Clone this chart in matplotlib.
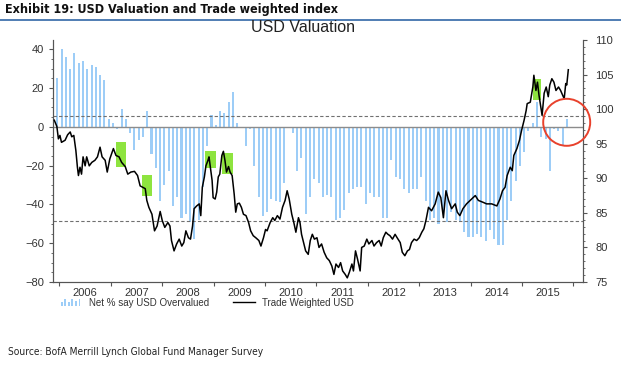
import matplotlib
matplotlib.use("Agg")
import matplotlib.pyplot as plt
from matplotlib import font_manager
from matplotlib.patches import Rectangle, Ellipse
from matplotlib.lines import Line2D
from matplotlib.legend_handler import HandlerBase

# monthly survey: net % of fund managers saying USD is overvalued, Dec 2005 .. Nov 2015
net_overvalued = [
    25, 40, 36, 30, 38, 33, 34, 30, 32, 31, 27, 24,
    4, 2, -1, 9, 4, -3, -12, -7, -5, 8, -14, -21,
    -38, -30, -23, -41, -36, -47, -45, -49, -58, -48, -31, -10,
    6, 1, 8, 7, 13, 18, 2, 0, -10, -1, -20, -36,
    -46, -44, -37, -38, -39, -29, 0, -3, -23, -16, -45, -36,
    -27, -29, -36, -35, -36, -48, -47, -43, -34, -32, -31, -31,
    -40, -34, -36, -36, -47, -47, -17, -26, -27, -32, -34, -32,
    -32, -26, -38, -48, -47, -50, -44, -49, -44, -48, -49, -54,
    -57, -57, -55, -57, -59, -53, -58, -61, -61, -48, -38, -28,
    -20, -13, -2, 2, 13, -5, -6, -23, -1, -2, -10, 4,
]
first_month = 2005 + 11.5 / 12  # mid Dec 2005

# trade weighted USD (decimal year, index level)
twi_t = [
    2005.90, 2005.95, 2005.98, 2006.01, 2006.04, 2006.11, 2006.16, 2006.21, 2006.24, 2006.28,
    2006.32, 2006.35, 2006.37, 2006.40, 2006.43, 2006.46, 2006.50, 2006.53, 2006.58, 2006.63,
    2006.69, 2006.74, 2006.79, 2006.83, 2006.89, 2006.93, 2006.98, 2007.05, 2007.10, 2007.16,
    2007.21, 2007.28, 2007.33, 2007.39, 2007.46, 2007.52, 2007.57, 2007.62, 2007.67, 2007.70,
    2007.74, 2007.80, 2007.85, 2007.90, 2007.96, 2008.00, 2008.05, 2008.11, 2008.15, 2008.18,
    2008.23, 2008.28, 2008.33, 2008.38, 2008.42, 2008.46, 2008.51, 2008.55, 2008.59, 2008.62,
    2008.67, 2008.72, 2008.75, 2008.78, 2008.82, 2008.85, 2008.89, 2008.91, 2008.94, 2008.97,
    2008.99, 2009.03, 2009.06, 2009.09, 2009.12, 2009.16, 2009.19, 2009.22, 2009.25, 2009.29,
    2009.32, 2009.36, 2009.40, 2009.43, 2009.46, 2009.50, 2009.54, 2009.58, 2009.63, 2009.68,
    2009.72, 2009.77, 2009.82, 2009.88, 2009.92, 2009.97, 2010.01, 2010.04, 2010.10, 2010.15,
    2010.19, 2010.24, 2010.29, 2010.34, 2010.39, 2010.43, 2010.47, 2010.52, 2010.56, 2010.60,
    2010.65, 2010.68, 2010.71, 2010.75, 2010.79, 2010.84, 2010.88, 2010.92, 2010.96, 2011.01,
    2011.05, 2011.10, 2011.15, 2011.20, 2011.25, 2011.30, 2011.34, 2011.38, 2011.43, 2011.47,
    2011.51, 2011.56, 2011.60, 2011.64, 2011.69, 2011.72, 2011.76, 2011.80, 2011.85, 2011.88,
    2011.93, 2011.98, 2012.02, 2012.08, 2012.12, 2012.17, 2012.22, 2012.26, 2012.30, 2012.35,
    2012.39, 2012.43, 2012.48, 2012.53, 2012.57, 2012.63, 2012.67, 2012.72, 2012.77, 2012.81,
    2012.85, 2012.90, 2012.95, 2013.00, 2013.05, 2013.09, 2013.13, 2013.18, 2013.24, 2013.31,
    2013.37, 2013.42, 2013.47, 2013.52, 2013.57, 2013.63, 2013.70, 2013.74, 2013.79, 2013.85,
    2013.92, 2014.02, 2014.09, 2014.15, 2014.25, 2014.31, 2014.41, 2014.51, 2014.57, 2014.62,
    2014.67, 2014.71, 2014.77, 2014.81, 2014.84, 2014.90, 2014.95, 2014.99, 2015.04, 2015.08,
    2015.10, 2015.16, 2015.21, 2015.23, 2015.27, 2015.30, 2015.33, 2015.36, 2015.39, 2015.43,
    2015.47, 2015.51, 2015.54, 2015.58, 2015.62, 2015.66, 2015.71, 2015.75, 2015.79, 2015.82,
    2015.85, 2015.87, 2015.90,
]
twi_val = [
    98.4, 97.5, 95.7, 96.2, 95.2, 95.5, 96.3, 96.7, 96.0, 96.2,
    94.0, 91.6, 90.4, 91.6, 90.6, 93.1, 91.8, 93.1, 91.8, 92.3,
    92.6, 93.1, 94.5, 93.1, 92.6, 90.9, 92.8, 94.3, 93.3, 93.1,
    92.3, 91.7, 90.6, 90.9, 91.0, 90.4, 88.9, 88.7, 88.5, 86.8,
    85.8, 84.8, 82.4, 83.1, 85.2, 83.9, 82.9, 83.6, 83.1, 81.0,
    79.5, 80.5, 81.2, 80.2, 80.7, 82.4, 81.4, 81.2, 83.1, 85.6,
    86.0, 86.3, 84.6, 88.7, 90.2, 91.8, 92.6, 93.1, 91.4, 89.7,
    87.2, 87.0, 88.0, 90.2, 90.6, 93.3, 93.9, 92.6, 90.9, 91.7,
    90.9, 90.4, 87.7, 85.1, 86.3, 86.4, 85.8, 84.8, 84.6, 83.6,
    82.4, 81.7, 81.4, 81.0, 80.2, 81.4, 82.6, 82.4, 83.6, 84.3,
    83.9, 84.6, 84.1, 85.8, 86.8, 88.2, 87.0, 84.8, 83.6, 82.2,
    84.3, 83.6, 81.9, 80.7, 79.5, 79.0, 81.0, 81.9, 81.2, 81.4,
    80.0, 80.5, 79.3, 78.5, 78.1, 77.3, 76.1, 77.6, 77.1, 77.8,
    76.6, 76.1, 75.6, 76.4, 77.6, 76.6, 79.5, 78.3, 76.6, 80.0,
    80.2, 81.2, 80.5, 81.0, 80.2, 80.7, 81.0, 80.2, 81.4, 82.2,
    81.9, 81.7, 81.2, 81.9, 81.4, 80.7, 79.3, 78.8, 79.5, 79.7,
    80.7, 81.2, 81.0, 81.4, 82.2, 82.7, 83.9, 85.8, 85.3, 86.3,
    88.0, 87.2, 84.3, 88.2, 86.8, 85.6, 86.3, 85.1, 84.6, 85.6,
    86.3, 87.0, 87.5, 86.8, 86.5, 86.3, 86.3, 86.0, 87.0, 88.2,
    88.7, 90.4, 91.6, 91.1, 93.3, 94.3, 95.5, 96.9, 98.4, 99.8,
    100.8, 101.0, 103.2, 104.9, 102.7, 103.9, 102.0, 100.6, 99.1, 102.3,
    103.2, 101.8, 103.5, 104.4, 103.9, 102.7, 103.2, 102.7, 102.0, 101.5,
    103.7, 103.5, 105.7,
]

# +/- 1 std band of the survey series
band_hi, band_lo = 5.5, -48.3

# green highlight windows on the USD line: (t0, t1, lo, hi)
highlights = [
    (2007.10, 2007.30, 91.7, 95.2),
    (2007.61, 2007.80, 87.5, 90.5),
    (2008.83, 2009.04, 91.5, 94.0),
    (2009.17, 2009.38, 90.6, 93.7),
    (2015.22, 2015.37, 101.3, 104.3),
]

years = list(range(2006, 2016))

BAR_COLOR = "#9dcdf7"
GREEN = "#8ee43f"
TXT = "#333333"
SPINE = "#555555"

# a narrow face for the header / source lines, if one is installed
installed = {f.name for f in font_manager.fontManager.ttflist}
NARROW = dict(family="Liberation Sans Narrow") if "Liberation Sans Narrow" in installed \
    else dict(family="DejaVu Sans", stretch="condensed")


class MiniBars(HandlerBase):
    def create_artists(self, legend, orig_handle, xdescent, ydescent,
                       width, height, fontsize, trans):
        hs = [0.55, 0.95, 0.6, 1.0, 0.7, 0.95]
        step = width / len(hs)
        return [Rectangle((-xdescent + k * step, -ydescent), step * 0.5, height * h,
                          facecolor=BAR_COLOR, edgecolor="none", transform=trans)
                for k, h in enumerate(hs)]


plt.rcParams["font.family"] = ["Liberation Sans", "DejaVu Sans"]
fig = plt.figure(figsize=(6.21, 3.76), dpi=100)

ax = fig.add_axes([53 / 621, 1 - 282 / 376, (582.7 - 53) / 621, 242 / 376])
ax2 = ax.twinx()

bar_x = [first_month + i / 12 for i in range(len(net_overvalued))]
bars = ax.bar(bar_x, net_overvalued, width=0.04, color=BAR_COLOR, lw=0, zorder=2)
ax.axhline(0, color="#8c8c8c", lw=1.0, zorder=3)
ax.axhline(band_hi, color="#707070", lw=0.8, ls=(0, (3, 2)), zorder=3)
ax.axhline(band_lo, color="#707070", lw=0.8, ls=(0, (3, 2)), zorder=3)

for t0, t1, lo, hi in highlights:
    ax2.add_patch(Rectangle((t0, lo), t1 - t0, hi - lo, facecolor=GREEN,
                            edgecolor="none", zorder=1))
ax2.plot(twi_t, twi_val, color="black", lw=1.1, zorder=3)

ax.set_xlim(2005.875, 2016.18)
ax.set_ylim(-80, 44.8)
ax2.set_ylim(75, 110)

ax.set_yticks(range(-80, 41, 20))
ax.set_yticks(range(-80, 41, 5), minor=True)
ax2.set_yticks(range(75, 111, 5))
ax2.set_yticks(range(75, 111, 1), minor=True)

ax.set_xticks(range(2006, 2017))
ax.set_xticklabels([])
ax.set_xticks([y + 0.5 for y in years], minor=True)
ax.set_xticklabels([str(y) for y in years], minor=True)
ax.tick_params(axis="x", which="major", length=3, color=SPINE)
ax.tick_params(axis="x", which="minor", length=0, pad=4, labelsize=8, labelcolor=TXT)
ax.tick_params(axis="y", which="major", length=3, color=SPINE, labelsize=8, labelcolor=TXT)
ax.tick_params(axis="y", which="minor", length=1.5, color=SPINE)
ax2.tick_params(axis="y", which="major", length=3, color=SPINE, labelsize=8, labelcolor=TXT, pad=6)
ax2.tick_params(axis="y", which="minor", length=1.5, color=SPINE)

for a in (ax, ax2):
    a.spines["top"].set_visible(False)
    for s in ("left", "right", "bottom"):
        a.spines[s].set_color(SPINE)
        a.spines[s].set_linewidth(0.8)

# legend below the plot
leg_line = Line2D([], [], color="black", lw=1.0)
fig.legend([bars, leg_line], ["Net % say USD Overvalued", "Trade Weighted USD"],
           handler_map={type(bars): MiniBars()},
           loc="upper left", bbox_to_anchor=(52 / 621, 1 - 289 / 376), ncol=2,
           frameon=False, fontsize=7, handlelength=2.2, handleheight=0.8,
           columnspacing=2.5, handletextpad=0.7, labelcolor=TXT)

# header, title, source
fig.text(5 / 621, 1 - 10 / 376, "Exhibit 19: USD Valuation and Trade weighted index",
         weight="bold", fontsize=9, va="center", ha="left", color="#111111", **NARROW)
fig.add_artist(Line2D([0, 1], [1 - 19.5 / 376] * 2, transform=fig.transFigure,
                      color="#4f7db3", lw=1.4))
fig.text(303 / 621, 1 - 27 / 376, "USD Valuation", fontsize=11.5,
         ha="center", va="center", color="#222222")
fig.text(8 / 621, 1 - 352 / 376, "Source: BofA Merrill Lynch Global Fund Manager Survey",
         fontsize=7.3, ha="left", va="center", color="#222222", **NARROW)

# red circle round the latest readings
fig.add_artist(Ellipse((566.7 / 621, 1 - 122.3 / 376), 47 / 621, 47 / 376,
                       transform=fig.transFigure, fill=False,
                       edgecolor="#e8412c", lw=1.4))

fig.savefig("out.png", dpi=100)
